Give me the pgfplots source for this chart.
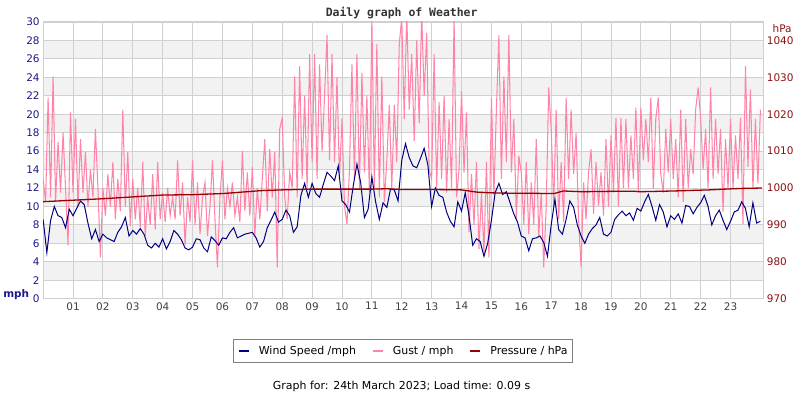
\documentclass[border=0pt]{standalone}
\usepackage{fontspec}
\setmainfont{DejaVu Sans}
\newfontfamily\monob{DejaVu Sans Mono}
\usepackage{pgfplots}
\pgfplotsset{compat=1.18}
\definecolor{windc}{HTML}{000080}
\definecolor{gustc}{HTML}{FF85A8}
\definecolor{presc}{HTML}{990000}
\definecolor{band}{HTML}{F2F2F2}
\definecolor{gridc}{HTML}{D0D0D0}
\definecolor{lblue}{HTML}{1A1A8C}
\definecolor{rred}{HTML}{8B1010}
\definecolor{xlab}{HTML}{404040}
\definecolor{titlec}{HTML}{333333}
\begin{document}
\begin{tikzpicture}
\path (0,0) rectangle (800pt,400pt);
\begin{axis}[
  at={(40pt,100pt)}, anchor=south west,
  scale only axis, width=723pt, height=278pt,
  xmin=0, xmax=24.1, ymin=0, ymax=30,
  xtick={1,...,23},
  xticklabels={01,02,03,04,05,06,07,08,09,10,11,12,13,14,15,16,17,18,19,20,21,22,23},
  ytick={0,2,...,30},
  grid=major, major grid style={draw=gridc, line width=0.9pt},
  major tick length=0pt,
  axis line style={draw=gridc, line width=1.2pt},
  tick label style={font=\fontsize{10.5}{12}\selectfont},
  xticklabel style={text=xlab},
  yticklabel style={text=lblue},
  /pgf/number format/assume math mode=true,
  set layers,
  legend columns=3,
  legend style={at={(0.4993,-0.147)}, anchor=north, draw=gray, line width=0.8pt,
    font=\fontsize{11}{13}\selectfont, inner ysep=4.5pt, inner xsep=5pt,
    nodes={inner xsep=0pt, inner ysep=2pt},
    /tikz/every odd column/.append style={column sep=9pt},
    /tikz/every even column/.append style={column sep=16pt}},
  legend image code/.code={\draw[#1,line width=2pt] (0pt,0pt) -- (10pt,0pt);},
]
\begin{pgfonlayer}{axis background}
\fill[band] (axis cs:0,2) rectangle (axis cs:24.1,4);
\fill[band] (axis cs:0,6) rectangle (axis cs:24.1,8);
\fill[band] (axis cs:0,10) rectangle (axis cs:24.1,12);
\fill[band] (axis cs:0,14) rectangle (axis cs:24.1,16);
\fill[band] (axis cs:0,18) rectangle (axis cs:24.1,20);
\fill[band] (axis cs:0,22) rectangle (axis cs:24.1,24);
\fill[band] (axis cs:0,26) rectangle (axis cs:24.1,28);
\end{pgfonlayer}
\addplot[gustc, line width=1.05pt, forget plot] table[x expr=\coordindex/12, y index=0] {
y
13
10.5
21.8
11
24.1
10.5
17
11.5
18
12
5.8
20.2
11.5
19.5
10
17.3
11.5
15.9
10
14
11
18.4
12
4.5
12
9
13.5
10
14.8
8.6
13
9.5
20.5
10
15.9
7.9
13
8.6
12
7.8
14.8
6.8
11
8
13.5
7.5
14.8
8.6
11.5
8.3
12
9
11
8.6
15
9
12.6
5.8
11
8.3
15
8
12.6
7
11
12.6
6.8
10
15
8.6
3.4
11
15
8.6
12
10
12.6
9
11
8.3
16
9.5
13.7
9
14.3
6.8
12
8.6
13
17.3
9.5
16.2
11
15.9
3.4
18.4
19.6
11
8.6
13.7
12
24.1
11
25.2
13
22
12
26.5
14.8
26.5
13
25.4
16
22
28.6
15
26.5
14.8
24
13
19.5
10.1
8.1
14
25.4
13
26.5
12
24.5
13.7
22
11.5
30.3
12
27.6
11
24.1
10.5
15
21
12
21
14.8
27.6
30.5
19.5
31
20.5
26.5
17.1
28
19
31
22
28.8
14
13
26.5
12
21.3
13
22
11.5
19.5
12
30.5
11
14
22.5
13.7
20.2
7.2
13.5
8
14.8
5.4
11.5
5
14.8
4.5
21.8
11.3
20.5
28.6
13
24.1
14.8
28.6
13.7
19.5
8.6
15.5
13.7
8
14.8
7
12.6
8
17.3
6.8
11.5
3.4
10
22.9
18.4
10
20.5
8.6
14.8
8.3
21.8
13
20.5
13.5
18
8.6
3.4
12.6
8.6
13.7
16.2
9.2
14.8
10.1
13.7
9
17.3
10
17.7
11.5
19.6
10
19.6
12
19.5
12
17.7
13
20.7
11.5
20.7
15
19.5
14.8
21.8
11.9
19.5
21.8
13.5
11.5
18.4
13.7
19.5
13
17.3
11
20.5
10.5
19.5
12
16.2
13.5
20.5
22.9
19.5
14
18.4
12
22.9
13
19.5
13.5
18.4
9.4
17.3
11.9
19.5
12
17.7
13
19.6
8.1
25.2
14.3
22.7
11.9
19.5
12.5
20.5
};
\addplot[windc, line width=1pt, forget plot] table[x expr=\coordindex/8, y index=0] {
y
8.6
5.0
8.5
10.0
9.0
8.8
7.7
9.7
9.0
9.8
10.6
10.2
8.2
6.5
7.5
6.2
7.0
6.6
6.4
6.2
7.2
7.8
8.8
6.8
7.4
7.0
7.6
7.0
5.8
5.5
6.0
5.6
6.5
5.4
6.2
7.4
7.0
6.4
5.5
5.3
5.6
6.5
6.4
5.5
5.1
6.7
6.3
5.8
6.6
6.5
7.2
7.7
6.6
6.8
7.0
7.1
7.2
6.6
5.6
6.2
7.7
8.5
9.4
8.3
8.6
9.6
9.0
7.2
7.8
11.2
12.5
11.0
12.5
11.4
11.0
12.4
13.7
13.3
12.8
14.4
10.6
10.2
9.4
12.2
14.6
12.6
8.8
9.7
13.2
10.5
8.6
10.4
9.9
11.9
11.8
10.6
15.0
16.8
15.3
14.4
14.2
15.2
16.3
14.5
10.0
12.0
11.2
11.0
9.4
8.4
7.8
10.5
9.5
11.5
9.0
5.8
6.5
6.2
4.6
6.0
8.5
11.5
12.5
11.3
11.6
10.4
9.2
8.3
6.8
6.6
5.2
6.5
6.6
6.8
6.1
4.6
8.0
10.8
7.5
7.0
8.6
10.6
9.9
8.0
6.8
6.0
7.0
7.6
8.0
8.8
7.0
6.8
7.2
8.6
9.1
9.5
9.0
9.3
8.5
9.8
9.5
10.5
11.3
10.0
8.5
10.2
9.4
7.8
9.0
8.6
9.2
8.2
10.1
10.0
9.2
9.9
10.4
11.2
10.0
8.0
9.0
9.6
8.5
7.5
8.4
9.4
9.6
10.5
9.8
7.8
10.4
8.2
8.4
};
\addlegendimage{windc}
\addlegendentry{Wind Speed /mph}
\addlegendimage{gustc}
\addlegendentry{Gust / mph}
\addlegendimage{presc}
\addlegendentry{Pressure / hPa}
\end{axis}
\begin{axis}[
  at={(40pt,100pt)}, anchor=south west,
  scale only axis, width=723pt, height=278pt,
  xmin=0, xmax=24.1, ymin=970, ymax=1045,
  axis y line*=right, axis x line=none,
  ytick={970,980,...,1040},
  major tick length=0pt,
  axis line style={draw=gridc, line width=1.2pt},
  tick label style={font=\fontsize{10.5}{12}\selectfont},
  yticklabel style={text=rred},
  /pgf/number format/assume math mode=true,
  /pgf/number format/1000 sep={},
]
\addplot[presc, line width=1.3pt] coordinates {
(0,996.3)(1,996.7)(2,997.1)(3,997.6)(4,998.1)(5,998.2)(6,998.5)(6.5,998.8)
(7.3,999.3)(8,999.5)(9,999.7)(11,999.7)(11.5,999.8)(12,999.6)(13,999.6)
(14,999.5)(14.5,998.9)(15,998.7)(15.5,998.6)(16,998.6)(17.1,998.5)(17.4,999.2)
(18,999.0)(19,999.1)(19.8,999.1)(20,999.0)(21.1,999.2)(22.3,999.5)(22.8,999.7)
(23.4,999.9)(24.05,1000.0)
};
\end{axis}
\node[font=\monob\bfseries\fontsize{11.5}{13}\selectfont, text=titlec] at (400pt,387pt) {Daily graph of Weather};
\node[font=\bfseries\fontsize{10.5}{12}\selectfont, text=lblue] at (13pt,104pt) {mph};
\node[font=\fontsize{10.5}{12}\selectfont, text=rred] at (782pt,371pt) {hPa};
\node[font=\fontsize{11}{13}\selectfont] at (400pt,12pt) {Graph for: 24th March 2023; Load time: 0.09 s};
\end{tikzpicture}
\end{document}
